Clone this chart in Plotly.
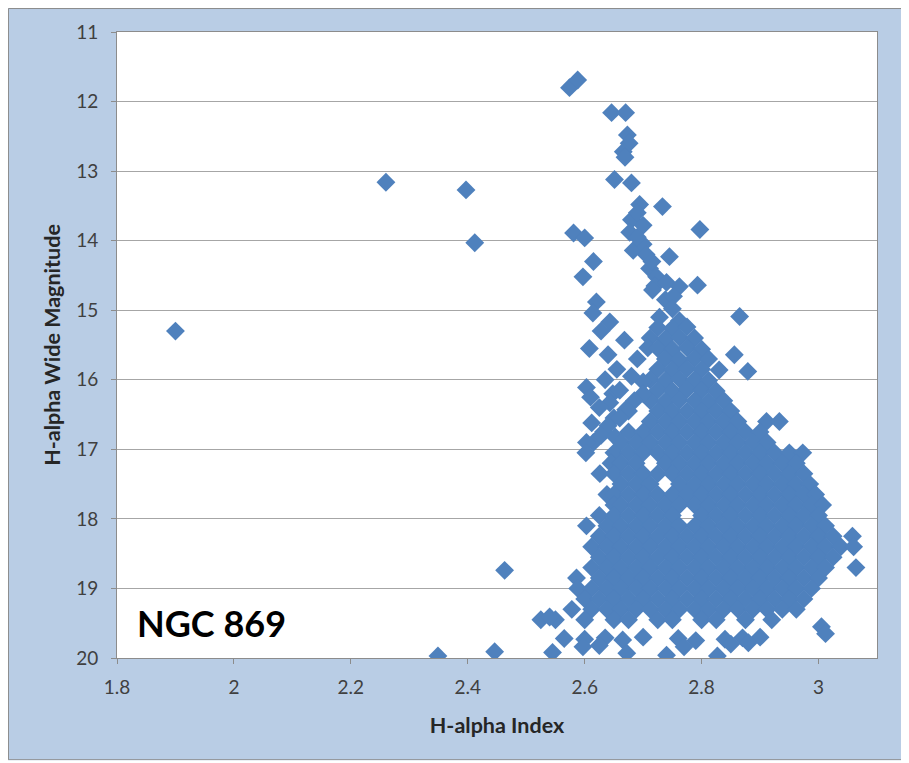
import plotly.graph_objects as go

# ---------------- data ----------------
# isolated field stars
field_x = [1.900, 2.260, 2.397, 2.412, 2.463, 2.349, 2.446]
field_y = [15.30, 13.16, 13.27, 14.03, 18.74, 19.97, 19.91]

# bright upper sequence
bright_x = [2.574, 2.588, 2.646, 2.670, 2.673, 2.676, 2.666, 2.669, 2.651, 2.680,
            2.694, 2.733, 2.797, 2.581, 2.600, 2.615, 2.597, 2.680, 2.677, 2.690,
            2.683, 2.700, 2.711, 2.745, 2.723, 2.700, 2.690, 2.705, 2.715]
bright_y = [11.80, 11.69, 12.16, 12.16, 12.48, 12.60, 12.72, 12.80, 13.12, 13.17,
            13.48, 13.51, 13.84, 13.89, 13.96, 14.30, 14.52, 13.70, 13.88, 13.60,
            14.14, 14.05, 14.40, 14.23, 14.52, 13.78, 13.95, 14.20, 14.30]

# spine, 14.6 - 16.4 mag
upper_x = [2.720, 2.740, 2.762, 2.793, 2.620, 2.716, 2.738, 2.752,
           2.614, 2.728, 2.750, 2.865, 2.762, 2.643,
           2.725, 2.750, 2.775, 2.668, 2.712, 2.738, 2.762, 2.788,
           2.708, 2.725, 2.750, 2.775, 2.800, 2.640, 2.856,
           2.738, 2.762, 2.788, 2.812,
           2.725, 2.750, 2.775, 2.800, 2.830, 2.879,
           2.712, 2.738, 2.762, 2.788, 2.812, 2.603, 2.635, 2.700,
           2.725, 2.750, 2.775, 2.800, 2.825, 2.648,
           2.712, 2.738, 2.762, 2.788, 2.812, 2.838, 2.643, 2.670, 2.612]
upper_y = [14.65, 14.60, 14.66, 14.64, 14.88, 14.71, 14.85, 14.80,
           15.04, 15.10, 14.98, 15.09, 15.15, 15.17,
           15.25, 15.26, 15.24, 15.43, 15.40, 15.41, 15.39, 15.40,
           15.54, 15.55, 15.56, 15.54, 15.56, 15.64, 15.64,
           15.70, 15.71, 15.69, 15.70,
           15.85, 15.86, 15.84, 15.85, 15.86, 15.88,
           16.00, 16.01, 15.99, 16.00, 16.01, 16.11, 16.00, 16.03,
           16.15, 16.16, 16.14, 16.15, 16.16, 16.20,
           16.30, 16.31, 16.29, 16.30, 16.31, 16.30, 16.33, 16.43, 16.62]

# scattered stars left of the main body, 15.3 - 17 mag
left_x = [2.628, 2.608, 2.655, 2.690, 2.680, 2.700, 2.660, 2.685, 2.610, 2.625,
          2.650, 2.675, 2.632, 2.615, 2.660, 2.640, 2.628, 2.652]
left_y = [15.30, 15.55, 15.85, 15.70, 15.95, 16.20, 16.15, 16.30, 16.25, 16.40,
          16.55, 16.45, 16.75, 16.90, 16.55, 16.66, 16.80, 16.82]

# dense cluster body: one list of H-alpha index values per magnitude row
core_mag = [16.45, 16.60, 16.75, 16.90, 17.05, 17.20, 17.35, 17.50, 17.65, 17.80,
            17.95, 18.10, 18.25, 18.40, 18.55, 18.70, 18.85, 19.00, 19.15, 19.30, 19.45]
r1645 = [2.725, 2.750, 2.775, 2.800, 2.825, 2.850]
r1660 = [2.712, 2.738, 2.762, 2.788, 2.812, 2.838, 2.862, 2.911, 2.933]
r1675 = [2.675, 2.700, 2.725, 2.750, 2.775, 2.800, 2.825, 2.850, 2.875, 2.900]
r1690 = [2.603, 2.662, 2.688, 2.712, 2.738, 2.762, 2.788, 2.812, 2.838, 2.862, 2.888, 2.912]
r1705 = [2.602, 2.650, 2.675, 2.700, 2.725, 2.750, 2.775, 2.800, 2.825, 2.850, 2.875, 2.900,
         2.925, 2.950, 2.973]
r1720 = [2.645, 2.662, 2.688, 2.738, 2.762, 2.788, 2.812, 2.838, 2.862, 2.888, 2.912,
         2.938, 2.962]
r1735 = [2.626, 2.650, 2.675, 2.700, 2.725, 2.750, 2.775, 2.800, 2.825, 2.850, 2.875, 2.900,
         2.925, 2.950, 2.975]
r1750 = [2.662, 2.688, 2.712, 2.762, 2.788, 2.812, 2.838, 2.862, 2.888, 2.912,
         2.938, 2.962, 2.985]
r1765 = [2.638, 2.650, 2.675, 2.700, 2.725, 2.750, 2.775, 2.800, 2.825, 2.850, 2.875, 2.900,
         2.925, 2.950, 2.975, 2.995]
r1780 = [2.650, 2.662, 2.688, 2.712, 2.738, 2.762, 2.788, 2.812, 2.838, 2.862, 2.888, 2.912,
         2.938, 2.962, 2.988, 3.007]
r1795 = [2.625, 2.650, 2.675, 2.700, 2.725, 2.750, 2.800, 2.825, 2.850, 2.875, 2.900,
         2.925, 2.950, 2.975, 3.000]
r1810 = [2.603, 2.638, 2.662, 2.688, 2.712, 2.738, 2.762, 2.788, 2.812, 2.838, 2.862,
         2.888, 2.912, 2.938, 2.962, 2.988, 3.012]
r1825 = [2.625, 2.650, 2.675, 2.700, 2.725, 2.750, 2.775, 2.800, 2.825, 2.850, 2.875, 2.900,
         2.925, 2.950, 2.975, 3.000, 3.025, 3.058]
r1840 = [2.612, 2.638, 2.662, 2.688, 2.712, 2.738, 2.762, 2.788, 2.812, 2.838, 2.862, 2.888,
         2.912, 2.938, 2.962, 2.988, 3.012, 3.038, 3.060]
r1855 = [2.625, 2.650, 2.675, 2.700, 2.725, 2.750, 2.775, 2.800, 2.825, 2.850, 2.875,
         2.900, 2.925, 2.950, 2.975, 3.000, 3.025]
r1870 = [2.612, 2.638, 2.662, 2.688, 2.712, 2.738, 2.762, 2.788, 2.812, 2.838, 2.862, 2.888,
         2.912, 2.938, 2.962, 2.988, 3.012, 3.064]
r1885 = [2.586, 2.625, 2.650, 2.675, 2.700, 2.725, 2.750, 2.775, 2.800, 2.825, 2.850,
         2.875, 2.900, 2.925, 2.950, 2.975, 3.000]
r1900 = [2.588, 2.612, 2.638, 2.662, 2.688, 2.712, 2.738, 2.762, 2.788, 2.812, 2.838, 2.862,
         2.888, 2.912, 2.938, 2.962, 2.988]
r1915 = [2.600, 2.625, 2.650, 2.675, 2.700, 2.725, 2.750, 2.775, 2.800, 2.825, 2.850, 2.875,
         2.900, 2.925, 2.950, 2.975]
r1930 = [2.578, 2.612, 2.638, 2.662, 2.688, 2.712, 2.738, 2.762, 2.788, 2.812, 2.838,
         2.862, 2.888, 2.912, 2.938, 2.962]
r1945 = [2.525, 2.550, 2.600, 2.650, 2.675, 2.725, 2.750, 2.800, 2.825, 2.875, 2.920]
core_rows = [r1645, r1660, r1675, r1690, r1705, r1720, r1735, r1750, r1765, r1780,
             r1795, r1810, r1825, r1840, r1855, r1870, r1885, r1900, r1915, r1930, r1945]

# faint scattered edge, 19.4 - 20 mag
faint_x = [2.540, 2.565, 2.600, 2.635, 2.665, 2.700, 2.760, 2.790, 2.840, 2.870, 2.900, 3.005, 3.012,
           2.545, 2.597, 2.625, 2.672, 2.740, 2.770, 2.827, 2.850, 2.880]
faint_y = [19.41, 19.72, 19.73, 19.71, 19.74, 19.70, 19.72, 19.75, 19.73, 19.71, 19.70, 19.55, 19.65,
           19.92, 19.84, 19.82, 19.93, 19.96, 19.84, 19.97, 19.80, 19.78]

x_ticks = [1.8, 2.0, 2.2, 2.4, 2.6, 2.8, 3.0]
x_tick_text = ["1.8", "2", "2.2", "2.4", "2.6", "2.8", "3"]
y_ticks = [11, 12, 13, 14, 15, 16, 17, 18, 19, 20]

# ---------------- assemble ----------------
core_x, core_y = [], []
for mag, row in zip(core_mag, core_rows):
    core_x += row
    core_y += [mag] * len(row)

all_x = field_x + bright_x + upper_x + left_x + core_x + faint_x
all_y = field_y + bright_y + upper_y + left_y + core_y + faint_y

FONT = "Lato, 'Open Sans', sans-serif"
BG = "#B9CDE5"

fig = go.Figure()
fig.add_trace(go.Scatter(
    x=all_x, y=all_y, mode="markers",
    marker=dict(symbol="diamond", size=14.5, color="#4F81BD", line=dict(width=0)),
    showlegend=False, hoverinfo="x+y"))

fig.update_layout(
    width=901, height=755,
    margin=dict(l=109, r=32, t=24, b=105),
    paper_bgcolor=BG,
    plot_bgcolor="white",
    font=dict(family=FONT, color="#404040"),
    shapes=[
        dict(type="rect", xref="paper", yref="paper",
             x0=-0.1428, x1=1.0362, y0=-0.1625, y1=1.0375,
             fillcolor="rgba(0,0,0,0)", line=dict(color="#8C8C8C", width=1), layer="above"),
        dict(type="rect", xref="paper", yref="paper",
             x0=1.0375, x1=1.2, y0=-0.3, y1=1.2,
             fillcolor="white", line=dict(width=0), layer="above"),
        dict(type="rect", xref="paper", yref="paper",
             x0=-0.3, x1=1.2, y0=-0.3, y1=-0.1635,
             fillcolor="white", line=dict(width=0), layer="above"),
    ],
    annotations=[dict(text="<b>NGC 869</b>", xref="paper", yref="paper",
                      x=0.024, y=0.056, xanchor="left", yanchor="middle",
                      showarrow=False, font=dict(family=FONT, size=36, color="black"))],
)

fig.update_xaxes(
    range=[1.8, 3.1], tickvals=x_ticks, ticktext=x_tick_text,
    showgrid=False, zeroline=False,
    showline=True, linecolor="#8C8C8C", linewidth=1, mirror=True,
    ticks="outside", ticklen=5, tickcolor="#8C8C8C", ticklabelstandoff=7,
    tickfont=dict(family=FONT, size=19, color="#404040"),
    title=dict(text="<b>H-alpha Index</b>", font=dict(family=FONT, size=21.5, color="#262626"), standoff=21),
)
fig.update_yaxes(
    range=[20, 11], tickvals=y_ticks,
    showgrid=True, gridcolor="#A6A6A6", gridwidth=1, zeroline=False,
    showline=True, linecolor="#8C8C8C", linewidth=1, mirror=True,
    ticks="outside", ticklen=5, tickcolor="#8C8C8C", ticklabelstandoff=9,
    tickfont=dict(family=FONT, size=19, color="#404040"),
    title=dict(text="<b>H-alpha Wide Magnitude</b>", font=dict(family=FONT, size=21.5, color="#262626"), standoff=9),
)

fig.write_html("out.html")
